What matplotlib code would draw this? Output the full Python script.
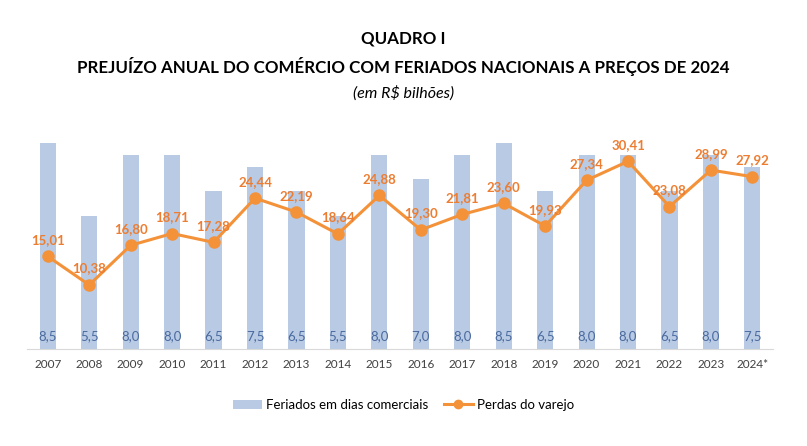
import matplotlib
matplotlib.use("Agg")
import matplotlib.pyplot as plt
from matplotlib.patches import Patch
from matplotlib.lines import Line2D

years = ["2007", "2008", "2009", "2010", "2011", "2012", "2013", "2014", "2015",
         "2016", "2017", "2018", "2019", "2020", "2021", "2022", "2023", "2024*"]
feriados = [8.5, 5.5, 8.0, 8.0, 6.5, 7.5, 6.5, 5.5, 8.0, 7.0, 8.0, 8.5, 6.5, 8.0, 8.0, 6.5, 8.0, 7.5]
perdas = [15.01, 10.38, 16.80, 18.71, 17.28, 24.44, 22.19, 18.64, 24.88, 19.30,
          21.81, 23.60, 19.93, 27.34, 30.41, 23.08, 28.99, 27.92]

plt.rcParams['font.family'] = ['Lato', 'DejaVu Sans']

bar_color = "#B8CAE4"
line_color = "#F4923A"
lbl_orange = "#ED7D31"
bar_lbl = "#4A6A9E"

fig = plt.figure(figsize=(8.07, 4.46), dpi=100)
ax = fig.add_axes([0.0335, 0.2175, 0.9245, 0.4843])
x = list(range(len(years)))
ax.bar(x, feriados, width=0.39, color=bar_color, zorder=1)
ax.set_ylim(0, 8.9)
ax.set_xlim(-0.5, len(years) - 0.5)
for xi, v in zip(x, feriados):
    ax.text(xi, 0.3, f"{v:.1f}".replace(".", ","), ha="center", va="bottom",
            fontsize=9.5, color=bar_lbl)
ax.set_yticks([])
for s in ["top", "right", "left"]:
    ax.spines[s].set_visible(False)
ax.spines["bottom"].set_color("#D9D9D9")
ax.set_xticks(x)
ax.set_xticklabels(years, fontsize=8.5, color="#404040")
ax.tick_params(axis="x", length=0, pad=7)

ax2 = ax.twinx()
ax2.set_ylim(0, 35)
ax2.plot(x, perdas, color=line_color, linewidth=2.2, marker="o", markersize=8, zorder=3)
for xi, v in zip(x, perdas):
    ax2.annotate(f"{v:.2f}".replace(".", ","), (xi, v), xytext=(0, 7.5),
                 textcoords="offset points", ha="center", va="bottom",
                 fontsize=9.5, fontweight="bold", color=lbl_orange)
ax2.set_yticks([])
for s in ["top", "right", "left", "bottom"]:
    ax2.spines[s].set_visible(False)

fig.text(0.5, 1 - 39 / 446, "QUADRO I", ha="center", va="center", fontsize=12.2, fontweight="bold")
fig.text(0.5, 1 - 66 / 446, "PREJUÍZO ANUAL DO COMÉRCIO COM FERIADOS NACIONAIS A PREÇOS DE 2024",
         ha="center", va="center", fontsize=12.2, fontweight="bold")
fig.text(0.5, 1 - 93 / 446, "(em R$ bilhões)", ha="center", va="center", fontsize=11.5, style="italic")

handles = [Patch(facecolor=bar_color, edgecolor="none"),
           Line2D([0], [0], color=line_color, linewidth=2.2, marker="o", markersize=6)]
fig.legend(handles, ["Feriados em dias comerciais", "Perdas do varejo"], loc="center",
           bbox_to_anchor=(0.5, 1 - 405 / 446), ncol=2, frameon=False, fontsize=9.5,
           handlelength=2.2, columnspacing=1.2, handletextpad=0.3)

fig.savefig("out.png", dpi=100)
